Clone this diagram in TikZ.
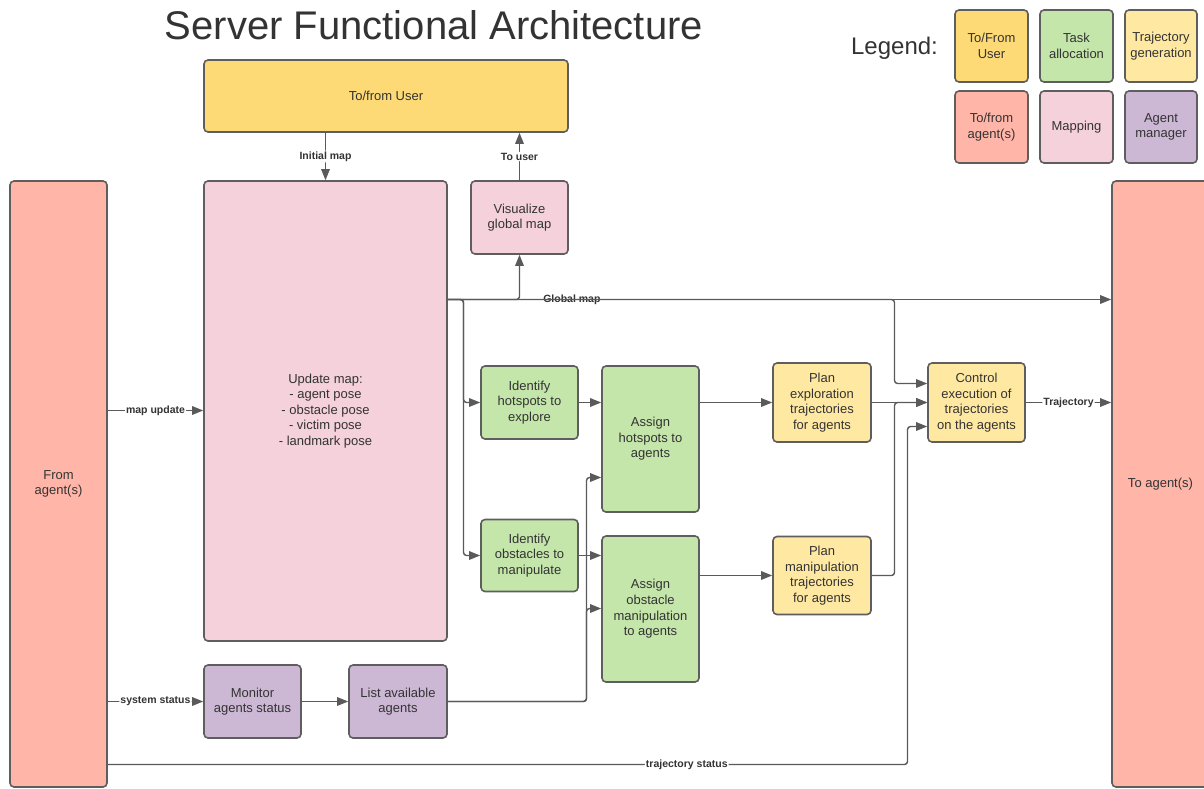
\documentclass[tikz,border=0pt]{standalone}
\usepackage{fontspec}
\setmainfont{Liberation Sans}
\usetikzlibrary{arrows.meta,calc}
\definecolor{bordc}{HTML}{5E5E5E}
\definecolor{linec}{HTML}{5A5A5A}
\definecolor{txtc}{HTML}{333333}
\definecolor{cuser}{HTML}{FDDA76}
\definecolor{cagent}{HTML}{FFB5A8}
\definecolor{cmap}{HTML}{F5D1DC}
\definecolor{ctask}{HTML}{C4E6AA}
\definecolor{ctraj}{HTML}{FFE9A2}
\definecolor{cman}{HTML}{CCB8D5}
\tikzset{
  box/.style={draw=bordc, line width=1.6pt, rounded corners=4pt, inner sep=0pt,
    align=center, text=txtc, font=\fontsize{13}{15.6}\selectfont},
  conn/.style={draw=linec, line width=1.4pt, rounded corners=3pt},
  arr/.style={conn, -{Triangle[length=11pt,width=8.5pt]}},
  lbl/.style={fill=white, inner sep=1pt, text=txtc, font=\bfseries\fontsize{10.5}{12}\selectfont},
}
\begin{document}
\begin{tikzpicture}[x=1pt,y=-1pt]
\useasboundingbox (0,0) rectangle (1204,788);
\fill[white] (0,0) rectangle (1204,788);

% title and legend
\node[text=txtc, font=\fontsize{40}{44}\selectfont] (title) at (434,25) {Server Functional Architecture};
\node[text=txtc, font=\fontsize{24}{28}\selectfont] (legend) at (894.5,48) {Legend:};
\node[box, fill=cuser, minimum width=73pt, minimum height=72pt] (l1) at (991.5,46) {To/From\\User};
\node[box, fill=ctask, minimum width=73pt, minimum height=72pt] (l2) at (1076.5,46) {Task\\allocation};
\node[box, fill=ctraj, minimum width=72pt, minimum height=72pt] (l3) at (1161,46) {Trajectory\\generation};
\node[box, fill=cagent, minimum width=73pt, minimum height=72pt] (l4) at (991.5,127) {To/from\\agent(s)};
\node[box, fill=cmap, minimum width=73pt, minimum height=72pt] (l5) at (1076.5,127) {Mapping};
\node[box, fill=cman, minimum width=72pt, minimum height=72pt] (l6) at (1161,127) {Agent\\manager};

% main boxes
\node[box, fill=cuser, minimum width=364pt, minimum height=72pt] (user) at (386,96) {To/from User};
\node[box, fill=cagent, minimum width=97pt, minimum height=606pt] (fromag) at (58.5,484) {From\\agent(s)};
\node[box, fill=cagent, minimum width=97pt, minimum height=606pt] (toag) at (1160.5,484) {To agent(s)};
\node[box, fill=cmap, minimum width=243pt, minimum height=460pt] (update) at (325.5,411)
  {Update map:\\- agent pose\\- obstacle pose\\- victim pose\\- landmark pose};
\node[box, fill=cmap, minimum width=97pt, minimum height=73pt] (vis) at (519.5,217.5) {Visualize\\global map};
\node[box, fill=ctask, minimum width=97pt, minimum height=73pt] (idhot) at (529.5,402.5) {Identify\\hotspots to\\explore};
\node[box, fill=ctask, minimum width=97pt, minimum height=72pt] (idobs) at (529.5,555.5) {Identify\\obstacles to\\manipulate};
\node[box, fill=ctask, minimum width=97pt, minimum height=146pt] (ashot) at (650.5,439) {Assign\\hotspots to\\agents};
\node[box, fill=ctask, minimum width=97pt, minimum height=146pt] (asobs) at (650.5,609) {Assign\\obstacle\\manipulation\\to agents};
\node[box, fill=ctraj, minimum width=98pt, minimum height=79pt] (planex) at (822,402.5) {Plan\\exploration\\trajectories\\for agents};
\node[box, fill=ctraj, minimum width=98pt, minimum height=78pt] (planman) at (822,575.5) {Plan\\manipulation\\trajectories\\for agents};
\node[box, fill=ctraj, minimum width=97pt, minimum height=79pt] (control) at (976.5,402.5) {Control\\execution of\\trajectories\\on the agents};
\node[box, fill=cman, minimum width=97pt, minimum height=73pt] (monitor) at (252.5,701.5) {Monitor\\agents status};
\node[box, fill=cman, minimum width=98pt, minimum height=73pt] (list) at (398,701.5) {List available\\agents};

% helper coordinates
\coordinate (gm) at (0,299.5);
\coordinate (j1) at (463.5,299.5);
\coordinate (j2) at (894.5,299.5);
\coordinate (j3) at (894.5,402.5);
\coordinate (ts) at (907.5,764.5);
\coordinate (la) at (586.5,701.5);
\coordinate (mu) at (0,410.5);

% user connections
\draw[arr] (user.south -| update.north) -- node[lbl]{Initial map} (update.north);
\draw[arr] (vis.north) -- node[lbl]{To user} (user.south -| vis.north);

% global map
\draw[arr] (update.east |- gm) -- node[lbl, pos=0.187]{Global map} (toag.west |- gm);
\draw[arr] (update.east |- gm) -| (vis.south);
\draw[arr] (update.east |- gm) -- (j1) |- (idhot.west);
\draw[arr] (update.east |- gm) -- (j1) |- (idobs.west);
\draw[arr] (update.east |- gm) -- (j2) |- (control.west |- 0,383.5);

% task chain
\draw[arr] (idhot.east) -- (ashot.west |- idhot.east);
\draw[arr] (idobs.east) -- (asobs.west |- idobs.east);
\draw[arr] (ashot.east |- planex.west) -- (planex.west);
\draw[arr] (asobs.east |- planman.west) -- (planman.west);
\draw[arr] (planex.east) -- (control.west);
\draw[arr] (planman.east) -| (j3) -- (control.west);
\draw[arr] (control.east) -- node[lbl]{Trajectory} (toag.west |- control.east);

% agents side
\draw[arr] (fromag.east |- mu) -- node[lbl]{map update} (update.west |- mu);
\draw[arr] (fromag.east |- monitor.west) -- node[lbl]{system status} (monitor.west);
\draw[arr] (monitor.east) -- (list.west);
\draw[arr] (list.east) -| (la |- 0,477.5) -- (ashot.west |- 0,477.5);
\draw[arr] (list.east) -| (la |- 0,608.5) -- (asobs.west |- 0,608.5);
\draw[arr] (fromag.east |- ts) -- node[lbl, pos=0.724]{trajectory status} (ts) -- (ts |- 0,426.5) -- (control.west |- 0,426.5);
\end{tikzpicture}
\end{document}
